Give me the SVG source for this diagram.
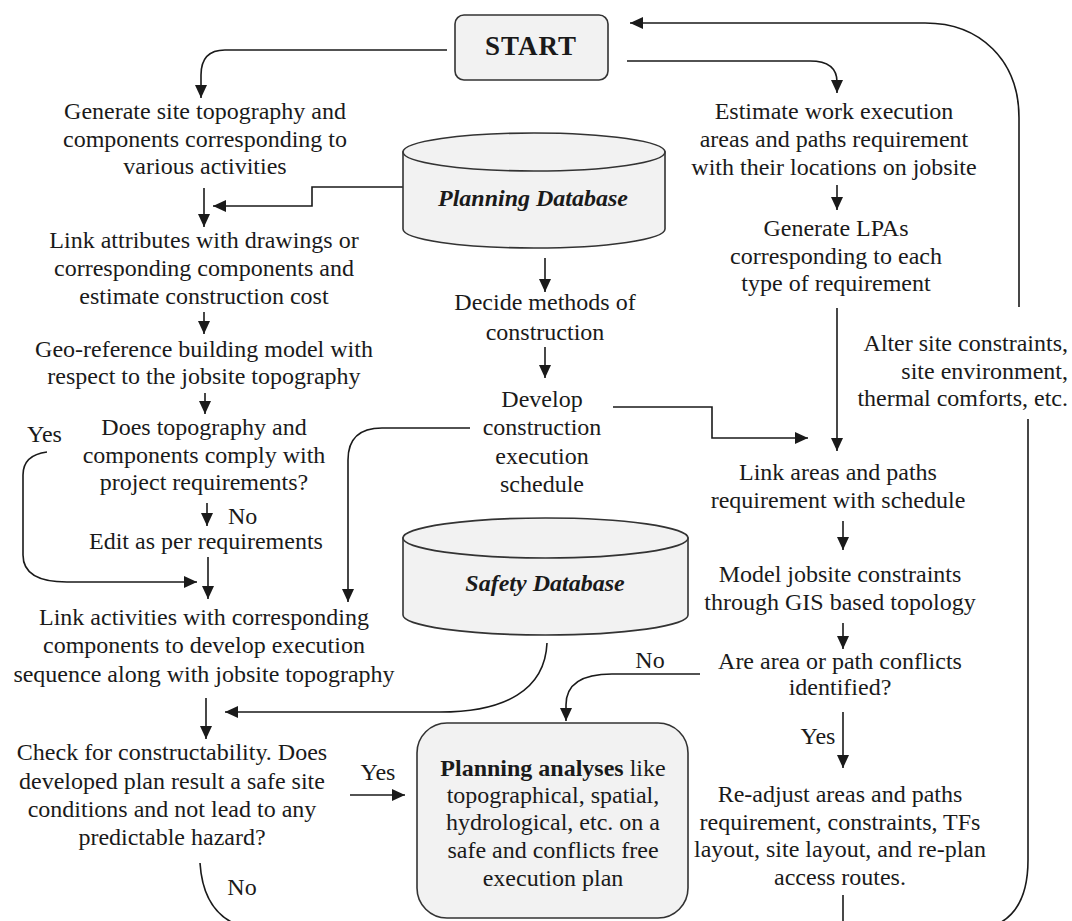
<svg xmlns="http://www.w3.org/2000/svg" width="1072" height="921" viewBox="0 0 1072 921">
<defs>
<marker id="ah" markerUnits="userSpaceOnUse" markerWidth="14" markerHeight="12" refX="13" refY="6" orient="auto">
<path d="M0,0 L13,6 L0,12 z" fill="#1a1a1a"/>
</marker>
<style>
text{font-family:"Liberation Serif","Times New Roman",serif;font-size:24px;fill:#1a1a1a}
.c{text-anchor:middle}
.r{text-anchor:end}
.b{font-weight:bold}
.bi{font-weight:bold;font-style:italic}
.ln{fill:none;stroke:#1a1a1a;stroke-width:1.6}
.ar{fill:none;stroke:#1a1a1a;stroke-width:1.6;marker-end:url(#ah)}
.box{fill:#f2f2f2;stroke:#333;stroke-width:1.6}
</style>
</defs>
<rect width="1072" height="921" fill="#fff"/>

<g id="connectors">
<path class="ar" d="M447,50 L225,50 Q201,50 201,75 L201,98"/>
<path class="ar" d="M627,61 L810,61 Q837,61 837,82 L837,93"/>
<path class="ar" d="M1019,307 L1019,118 C1019,60 980,23 925,23 L630,23"/>
<path class="ln" d="M1028,419 L1028,860 Q1028,925 975,930 L260,930 Q204,925 200,863"/>
<path class="ln" d="M843,895 L843,925"/>
<path class="ar" d="M204,188 L204,227"/>
<path class="ar" d="M403,187 L312,187 L312,206 L213,206"/>
<path class="ar" d="M204,312 L204,334"/>
<path class="ar" d="M205,393 L205,414"/>
<path class="ar" d="M207,503 L207,526"/>
<path class="ar" d="M208,557 L208,599"/>
<path class="ar" d="M47,452 Q23,455 23,475 L23,555 Q23,582 67,582 L197,582"/>
<path class="ar" d="M470,428 L382,428 Q348,428 348,460 L348,602"/>
<path class="ar" d="M206,698 L206,739"/>
<path class="ar" d="M547,643 C545,690 505,712 440,712 L225,712"/>
<path class="ar" d="M350,795 L405,795"/>
<path class="ar" d="M545,258 L545,292"/>
<path class="ar" d="M545,347 L545,378"/>
<path class="ar" d="M613,407 L712,407 L712,438 L808,438"/>
<path class="ar" d="M837,185 L837,210"/>
<path class="ar" d="M837,308 L837,451"/>
<path class="ar" d="M843,521 L843,550"/>
<path class="ar" d="M843,623 L843,649"/>
<path class="ar" d="M700,674 L612,674 Q566,674 566,705 L566,721"/>
<path class="ar" d="M843,712 L843,768"/>
</g>

<g id="start">
<rect class="box" x="455" y="15" width="153" height="65" rx="9"/>
<text class="c b" x="531" y="55" style="font-size:27px;letter-spacing:1px">START</text>
</g>

<g id="planning-db">
<path class="box" d="M403,152 L403,229 A131,19 0 0 0 665,229 L665,152 Z"/>
<ellipse class="box" cx="534" cy="152" rx="131" ry="19"/>
<text class="c bi" x="533" y="206">Planning Database</text>
</g>

<g id="safety-db">
<path class="box" d="M403,538 L403,615 A142.5,20 0 0 0 688,615 L688,538 Z"/>
<ellipse class="box" cx="545.5" cy="538" rx="142.5" ry="20"/>
<text class="c bi" x="545" y="591">Safety Database</text>
</g>

<g id="generate-site">
<text class="c" x="205" y="119">Generate site topography and</text>
<text class="c" x="205" y="147">components corresponding to</text>
<text class="c" x="205" y="174">various activities</text>
</g>

<g id="link-attributes">
<text class="c" x="204" y="248">Link attributes with drawings or</text>
<text class="c" x="204" y="276">corresponding components and</text>
<text class="c" x="204" y="304">estimate construction cost</text>
</g>

<g id="geo-reference">
<text class="c" x="204" y="357">Geo-reference building model with</text>
<text class="c" x="204" y="384">respect to the jobsite topography</text>
</g>

<g id="comply">
<text class="c" x="204" y="435">Does topography and</text>
<text class="c" x="204" y="463">components comply with</text>
<text class="c" x="204" y="490">project requirements?</text>
<text x="27" y="442">Yes</text>
<text x="228" y="524">No</text>
</g>

<g id="edit">
<text class="c" x="206" y="549">Edit as per requirements</text>
</g>

<g id="link-activities">
<text class="c" x="204" y="625">Link activities with corresponding</text>
<text class="c" x="204" y="653">components to develop execution</text>
<text class="c" x="204" y="682">sequence along with jobsite topography</text>
</g>

<g id="check">
<text class="c" x="172" y="760">Check for constructability. Does</text>
<text class="c" x="172" y="789">developed plan result a safe site</text>
<text class="c" x="172" y="817">conditions and not lead to any</text>
<text class="c" x="172" y="845">predictable hazard?</text>
<text class="c" x="378" y="780">Yes</text>
<text class="c" x="242" y="895">No</text>
</g>

<g id="decide">
<text class="c" x="545" y="310">Decide methods of</text>
<text class="c" x="545" y="340">construction</text>
</g>

<g id="develop">
<text class="c" x="542" y="407">Develop</text>
<text class="c" x="542" y="435">construction</text>
<text class="c" x="542" y="464">execution</text>
<text class="c" x="542" y="492">schedule</text>
</g>

<g id="planning-analyses">
<rect class="box" x="417" y="723" width="271" height="195" rx="30"/>
<text class="c" x="553" y="776"><tspan class="b">Planning analyses</tspan> like</text>
<text class="c" x="553" y="803">topographical, spatial,</text>
<text class="c" x="553" y="830">hydrological, etc. on a</text>
<text class="c" x="553" y="858">safe and conflicts free</text>
<text class="c" x="553" y="886">execution plan</text>
</g>

<g id="estimate">
<text class="c" x="834" y="119">Estimate work execution</text>
<text class="c" x="834" y="147">areas and paths requirement</text>
<text class="c" x="834" y="175">with their locations on jobsite</text>
</g>

<g id="generate-lpas">
<text class="c" x="836" y="236">Generate LPAs</text>
<text class="c" x="836" y="264">corresponding to each</text>
<text class="c" x="836" y="291">type of requirement</text>
</g>

<g id="alter">
<text class="r" x="1068" y="351">Alter site constraints,</text>
<text class="r" x="1068" y="379">site environment,</text>
<text class="r" x="1068" y="406">thermal comforts, etc.</text>
</g>

<g id="link-areas">
<text class="c" x="838" y="480">Link areas and paths</text>
<text class="c" x="838" y="508">requirement with schedule</text>
</g>

<g id="model">
<text class="c" x="840" y="582">Model jobsite constraints</text>
<text class="c" x="840" y="610">through GIS based topology</text>
</g>

<g id="conflicts">
<text class="c" x="840" y="669">Are area or path conflicts</text>
<text class="c" x="840" y="695">identified?</text>
<text class="c" x="650" y="668">No</text>
<text class="c" x="818" y="744">Yes</text>
</g>

<g id="readjust">
<text class="c" x="840" y="802">Re-adjust areas and paths</text>
<text class="c" x="840" y="830">requirement, constraints, TFs</text>
<text class="c" x="840" y="857">layout, site layout, and re-plan</text>
<text class="c" x="840" y="885">access routes.</text>
</g>
</svg>
